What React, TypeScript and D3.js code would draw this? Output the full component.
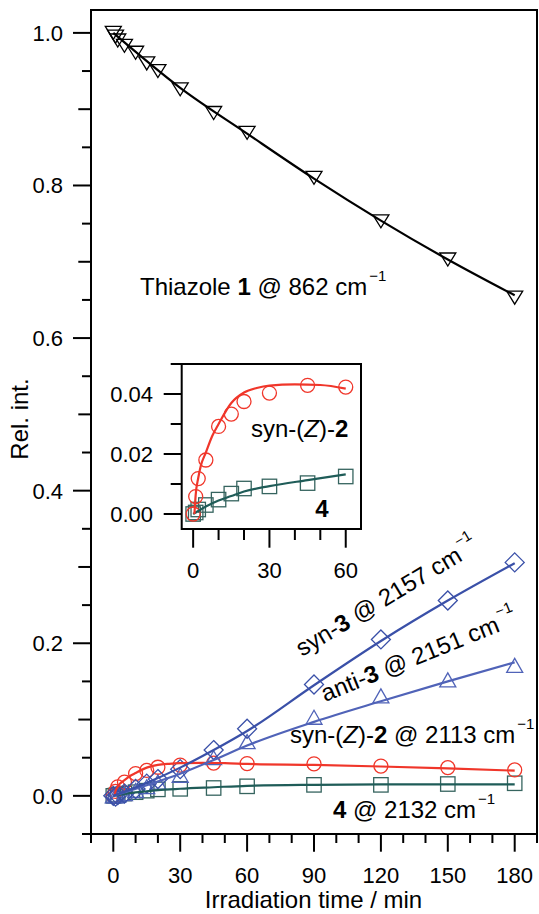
import React from 'react';
import * as d3 from 'd3';

// ---- data ----
const times = [0, 1, 2, 5, 10, 15, 20, 30, 45, 60, 90, 120, 150, 180];
const thiazole = [1.0, 0.995, 0.99, 0.983, 0.974, 0.96, 0.95, 0.926, 0.895, 0.869, 0.81, 0.753, 0.703, 0.653];
const syn3 = [0, -0.001, 0.001, 0.003, 0.009, 0.016, 0.022, 0.035, 0.06, 0.088, 0.146, 0.205, 0.256, 0.306];
const anti3 = [0, 0, 0.001, 0.003, 0.007, 0.012, 0.018, 0.027, 0.05, 0.071, 0.103, 0.131, 0.152, 0.171];
const synZ2 = [0, 0.0058, 0.0118, 0.018, 0.0292, 0.0333, 0.0375, 0.0403, 0.0429, 0.0423, 0.042, 0.039, 0.037, 0.034];
const cmp4 = [0, 0.0005, 0.0015, 0.003, 0.0048, 0.0068, 0.0085, 0.0092, 0.0103, 0.0125, 0.0144, 0.0144, 0.0155, 0.0165];

// fitted curves
const thiazoleFitT = [0, 30, 60, 90, 120, 150, 180];
const thiazoleFit = [1.0, 0.928, 0.868, 0.809, 0.754, 0.703, 0.656];
const syn3FitT = [0, 15, 30, 45, 60, 90, 120, 150, 180];
const syn3Fit = [0, 0.017, 0.037, 0.06, 0.085, 0.145, 0.203, 0.256, 0.305];
const anti3FitT = [0, 15, 30, 45, 60, 90, 120, 150, 180];
const anti3Fit = [0, 0.014, 0.029, 0.047, 0.066, 0.097, 0.124, 0.15, 0.175];
const synZ2FitT = [0.5, 1, 2, 3, 5, 7.5, 10, 15, 20, 25, 30, 40, 50, 60, 90, 120, 150, 180];
const synZ2Fit = [0, 0.0064, 0.012, 0.016, 0.0205, 0.026, 0.03, 0.037, 0.0405, 0.042, 0.0428, 0.0432, 0.043, 0.0418, 0.0405, 0.0385, 0.036, 0.033];
const cmp4FitT = [0, 2, 5, 10, 15, 20, 30, 45, 60, 90, 120, 150, 180];
const cmp4Fit = [0, 0.001, 0.0025, 0.0045, 0.006, 0.0075, 0.0093, 0.0113, 0.0132, 0.0145, 0.015, 0.015, 0.015];

const xTickLabels = [0, 30, 60, 90, 120, 150, 180];
const yTickLabels = [0, 0.2, 0.4, 0.6, 0.8, 1.0];
const insetXTickLabels = [0, 30, 60];
const insetYTickLabels = [0, 0.02, 0.04];

const RED = '#f0362a';
const BLUE = '#3a50a8';
const BLUE2 = '#5063b8';
const TEAL = '#1f5c58';
const TEAL_M = '#36645f';
const FONT = '"Liberation Sans", Arial, Helvetica, sans-serif';

type Shape = 'tdown' | 'tup' | 'diamond' | 'circle' | 'square';

function Marker({ shape, x, y, color, s = 1 }: { shape: Shape; x: number; y: number; color: string; s?: number }) {
  const common = { fill: 'none', stroke: color, strokeWidth: 1.3 };
  if (shape === 'circle') return <circle cx={x} cy={y} r={7 * s} {...common} />;
  if (shape === 'square') {
    const h = 7.2 * s;
    return <rect x={x - h} y={y - h} width={2 * h} height={2 * h} {...common} />;
  }
  if (shape === 'diamond') {
    const h = 9.5 * s;
    return <path d={`M${x},${y - h}L${x + h},${y}L${x},${y + h}L${x - h},${y}Z`} {...common} />;
  }
  if (shape === 'tdown') {
    const w = 8, h = 6.5;
    return <path d={`M${x - w},${y - h}L${x + w},${y - h}L${x},${y + h}Z`} {...common} />;
  }
  const w = 8, h = 7;
  return <path d={`M${x - w},${y + h}L${x + w},${y + h}L${x},${y - h}Z`} {...common} />;
}

export default function App() {
  // main plot
  const x = d3.scaleLinear().domain([-10, 190]).range([91, 537]);
  const y = d3.scaleLinear().domain([-0.05, 1.03]).range([834, 10]);
  // inset
  const ix = d3.scaleLinear().domain([-4.5, 66]).range([181.7, 361]);
  const iy = d3.scaleLinear().domain([-0.005, 0.05]).range([529, 364]);

  const mkLine = (sx: any, sy: any) =>
    d3.line<[number, number]>().x(d => sx(d[0])).y(d => sy(d[1])).curve(d3.curveMonotoneX);
  const mainLine = mkLine(x, y);
  const insetLine = mkLine(ix, iy);
  const pairs = (t: number[], v: number[]) => t.map((tt, i) => [tt, v[i]] as [number, number]);

  const yMinor = d3.range(-0.05, 1.051, 0.05).map(v => Math.round(v * 100) / 100);
  const xMinor = d3.range(-10, 191, 10);

  const mainSeries: { v: number[]; shape: Shape; color: string }[] = [
    { v: thiazole, shape: 'tdown', color: '#000' },
    { v: cmp4, shape: 'square', color: TEAL_M },
    { v: synZ2, shape: 'circle', color: RED },
    { v: anti3, shape: 'tup', color: BLUE2 },
    { v: syn3, shape: 'diamond', color: BLUE },
  ];
  const mainFits: { t: number[]; v: number[]; color: string }[] = [
    { t: thiazoleFitT, v: thiazoleFit, color: '#000' },
    { t: cmp4FitT, v: cmp4Fit, color: TEAL },
    { t: synZ2FitT, v: synZ2Fit, color: RED },
    { t: anti3FitT, v: anti3Fit, color: BLUE2 },
    { t: syn3FitT, v: syn3Fit, color: BLUE },
  ];

  const insetIdx = times.map((t, i) => i).filter(i => times[i] <= 60);

  return (
    <svg width={539} height={914} style={{ position: 'absolute', left: 0, top: 0, background: '#fff' }} fontFamily={FONT}>
      <rect x={0} y={0} width={539} height={914} fill="#fff" />
      {/* main frame */}
      <rect x={x(-10)} y={y(1.03)} width={x(190) - x(-10)} height={y(-0.05) - y(1.03)} fill="none" stroke="#000" strokeWidth={2} />
      {/* y ticks */}
      {yMinor.map(v => {
        const k = Math.round(v * 100);
        const len = k % 20 === 0 ? 18 : k % 10 === 0 ? 12.7 : 9;
        return <line key={'yt' + k} x1={x(-10) - len} x2={x(-10)} y1={y(v)} y2={y(v)} stroke="#000" strokeWidth={2} />;
      })}
      {yTickLabels.map(v => (
        <text key={'yl' + v} x={63} y={y(v)} dy="0.36em" textAnchor="end" fontSize={22}>{v.toFixed(1)}</text>
      ))}
      {/* x ticks */}
      {xMinor.map(t => {
        const len = t % 30 === 0 ? 17.7 : 9;
        return <line key={'xt' + t} x1={x(t)} x2={x(t)} y1={y(-0.05)} y2={y(-0.05) + len} stroke="#000" strokeWidth={2} />;
      })}
      {xTickLabels.map(t => (
        <text key={'xl' + t} x={x(t)} y={883} textAnchor="middle" fontSize={22}>{t}</text>
      ))}
      <text x={313.5} y={908} textAnchor="middle" fontSize={24}>Irradiation time / min</text>
      <text transform="translate(28,419) rotate(-90)" textAnchor="middle" fontSize={24}>Rel. int.</text>

      {/* main markers */}
      {mainSeries.map((s, si) =>
        times.map((t, i) => <Marker key={'m' + si + '-' + i} shape={s.shape} x={x(t)} y={y(s.v[i])} color={s.color} />)
      )}
      {/* main fits */}
      {mainFits.map((f, fi) => (
        <path key={'f' + fi} d={mainLine(pairs(f.t, f.v)) || ''} fill="none" stroke={f.color} strokeWidth={2.2} />
      ))}

      {/* labels */}
      <text x={140} y={295} fontSize={24}>
        Thiazole <tspan fontWeight="bold">1</tspan> @ 862 cm<tspan fontSize={15} dx={2} dy={-14}>−1</tspan>
      </text>
      <text transform="translate(302,657) rotate(-31)" fontSize={24}>
        syn-<tspan fontWeight="bold">3</tspan> @ 2157 cm<tspan fontSize={15} dx={2} dy={-14}>−1</tspan>
      </text>
      <text transform="translate(325,702) rotate(-22)" fontSize={24}>
        anti-<tspan fontWeight="bold">3</tspan> @ 2151 cm<tspan fontSize={15} dx={2} dy={-14}>−1</tspan>
      </text>
      <text x={290} y={743} fontSize={24}>
        syn-(<tspan fontStyle="italic">Z</tspan>)-<tspan fontWeight="bold">2</tspan> @ 2113 cm<tspan fontSize={15} dx={2} dy={-14}>−1</tspan>
      </text>
      <text x={333} y={818} fontSize={24}>
        <tspan fontWeight="bold">4</tspan> @ 2132 cm<tspan fontSize={15} dx={2} dy={-14}>−1</tspan>
      </text>

      {/* inset */}
      <rect x={ix(-4.5)} y={iy(0.05)} width={ix(66) - ix(-4.5)} height={iy(-0.005) - iy(0.05)} fill="#fff" stroke="#000" strokeWidth={2} />
      {[0, 0.01, 0.02, 0.03, 0.04, 0.05].map((v, k) => {
        const len = k % 2 === 0 ? 18 : 11;
        return <line key={'iyt' + k} x1={ix(-4.5) - len} x2={ix(-4.5)} y1={iy(v)} y2={iy(v)} stroke="#000" strokeWidth={2} />;
      })}
      {insetYTickLabels.map(v => (
        <text key={'iyl' + v} x={153} y={iy(v)} dy="0.36em" textAnchor="end" fontSize={22}>{v.toFixed(2)}</text>
      ))}
      {[0, 10, 20, 30, 40, 50, 60].map(t => {
        const len = t % 30 === 0 ? 18.7 : 11;
        return <line key={'ixt' + t} x1={ix(t)} x2={ix(t)} y1={iy(-0.005)} y2={iy(-0.005) + len} stroke="#000" strokeWidth={2} />;
      })}
      {insetXTickLabels.map(t => (
        <text key={'ixl' + t} x={ix(t)} y={578} textAnchor="middle" fontSize={22}>{t}</text>
      ))}
      {insetIdx.map(i => <Marker key={'is' + i} shape="square" x={ix(times[i])} y={iy(cmp4[i])} color={TEAL_M} />)}
      {insetIdx.map(i => <Marker key={'ic' + i} shape="circle" x={ix(times[i])} y={iy(synZ2[i])} color={RED} />)}
      <path d={insetLine(pairs(cmp4FitT, cmp4Fit).filter(p => p[0] <= 60)) || ''} fill="none" stroke={TEAL} strokeWidth={2.2} />
      <path d={insetLine(pairs(synZ2FitT, synZ2Fit).filter(p => p[0] <= 60)) || ''} fill="none" stroke={RED} strokeWidth={2.2} />
      <text x={251} y={437} fontSize={24}>
        syn-(<tspan fontStyle="italic">Z</tspan>)-<tspan fontWeight="bold">2</tspan>
      </text>
      <text x={322} y={517} textAnchor="middle" fontSize={24} fontWeight="bold">4</text>
    </svg>
  );
}
